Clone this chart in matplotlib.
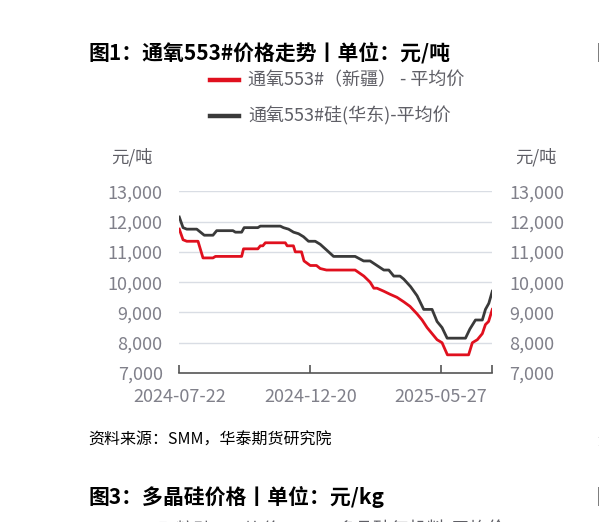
import matplotlib.pyplot as plt

plt.rcParams['font.family'] = ['Noto Sans CJK SC', 'DejaVu Sans']

# trading-day index and price (元/吨)
xj_idx = [0, 3, 6, 15, 19, 27, 29, 50, 51.5, 63, 65, 67, 69, 85, 86.5, 91.5, 93, 98,
          100, 105, 110, 113, 118, 141, 148, 153, 156, 158.5, 164, 169, 174.5, 180,
          185, 190.7, 194.7, 198.7, 202.7, 206.7, 210.7, 215, 232, 235, 239, 243,
          245.5, 248, 251]
xj_val = [11750, 11400, 11350, 11350, 10800, 10800, 10850, 10850, 11100, 11100, 11200,
          11200, 11300, 11300, 11200, 11200, 11000, 11000, 10700, 10550, 10550, 10450,
          10400, 10400, 10200, 10000, 9800, 9800, 9700, 9600, 9500, 9350, 9200, 8950,
          8750, 8500, 8300, 8100, 8000, 7600, 7600, 8000, 8100, 8300, 8600, 8700, 9100]

hd_idx = [0, 3, 6, 14, 17, 20, 27, 30, 43, 45, 50, 52, 63, 65, 81, 83.5, 87.6, 91.6,
          95.6, 99.6, 103.6, 109, 113, 118.4, 123.7, 141, 147.8, 153, 158.5, 164, 168,
          172, 177, 180, 185.5, 190.7, 196, 202.7, 206.7, 210.7, 214.8, 229.5, 233,
          237.5, 243, 245.5, 248.2, 251]
hd_val = [12150, 11800, 11750, 11750, 11650, 11550, 11550, 11700, 11700, 11650, 11650,
          11800, 11800, 11850, 11850, 11800, 11750, 11650, 11600, 11500, 11350, 11350,
          11250, 11050, 10850, 10850, 10700, 10700, 10550, 10400, 10400, 10200, 10200,
          10100, 9850, 9550, 9100, 9100, 8700, 8500, 8150, 8150, 8450, 8750, 8750, 9100,
          9300, 9700]

tick_pos = [0, 105, 210, 251]
tick_labels = ['2024-07-22', '2024-12-20', '2025-05-27', '']
y_ticks = [7000, 8000, 9000, 10000, 11000, 12000, 13000]

W, H = 599, 522
fig = plt.figure(figsize=(W / 100, H / 100), dpi=100)


def fx(x):
    return x / W


def fy(y):
    return 1 - y / H


ax = fig.add_axes([fx(179.3), fy(373), fx(492.3) - fx(179.3), fy(191.3) - fy(373)])
red = '#e0101e'
dark = '#3a3a3a'
ax.plot(hd_idx, hd_val, color=dark, lw=2.0, solid_joinstyle='round')
ax.plot(xj_idx, xj_val, color=red, lw=2.0, solid_joinstyle='round')

ax.set_xlim(0, 251)
ax.set_ylim(7000, 13000)
ax.set_yticks(y_ticks)
ax.set_yticklabels([f'{v:,}' for v in y_ticks])
ax.set_xticks(tick_pos)
ax.set_xticklabels(tick_labels)
for v in y_ticks[1:]:
    ax.axhline(v, color='#d9dde4', lw=1.0, zorder=0)
for s in ['top', 'left', 'right']:
    ax.spines[s].set_visible(False)
ax.spines['bottom'].set_color('#555555')
ax.spines['bottom'].set_linewidth(1.2)
ax.tick_params(axis='x', direction='in', length=6, width=1.2, color='#555555',
               labelsize=13, labelcolor='#80808a', pad=11)
ax.tick_params(axis='y', length=0, labelsize=13, labelcolor='#80808a', pad=12,
               right=True, labelright=True)

gray = '#5f5f66'
fig.text(fx(88), fy(53), '图1：通氧553#价格走势丨单位：元/吨', fontsize=15,
         fontweight='bold', va='center', ha='left', color='black')
fig.lines.append(plt.Line2D([fx(210), fx(239)], [fy(79.5), fy(79.5)], color=red, lw=3.2,
                            transform=fig.transFigure))
fig.lines.append(plt.Line2D([fx(210), fx(239)], [fy(115.5), fy(115.5)], color=dark, lw=3.2,
                            transform=fig.transFigure))
fig.text(fx(248), fy(80), '通氧553#（新疆） - 平均价', fontsize=13, color=gray,
         va='center', ha='left')
fig.text(fx(248), fy(116), '通氧553#硅(华东)-平均价', fontsize=13, color=gray,
         va='center', ha='left')
fig.text(fx(111), fy(157), '元/吨', fontsize=12.5, color=gray, va='center', ha='left')
fig.text(fx(515), fy(157), '元/吨', fontsize=12.5, color=gray, va='center', ha='left')

fig.text(fx(88), fy(440), '资料来源：SMM，华泰期货研究院', fontsize=11.5, style='italic',
         color='black', va='center', ha='left')
fig.text(fx(88), fy(497), '图3：多晶硅价格丨单位：元/kg', fontsize=15,
         fontweight='bold', va='center', ha='left', color='black')
fig.text(fx(158), fy(531), '颗粒硅 - 平均价', fontsize=13, color=gray, va='center', ha='left')
fig.text(fx(338), fy(531), '多晶硅复投料-平均价', fontsize=13, color=gray, va='center',
         ha='left')
# edges of the neighbouring charts on the page
fig.text(fx(596), fy(53), '图2', fontsize=15, fontweight='bold', va='center', ha='left')
fig.text(fx(596), fy(497), '图4', fontsize=15, fontweight='bold', va='center', ha='left')
fig.text(fx(597), fy(440), '资', fontsize=11.5, style='italic', va='center', ha='left')

fig.savefig('out.png', dpi=100)
